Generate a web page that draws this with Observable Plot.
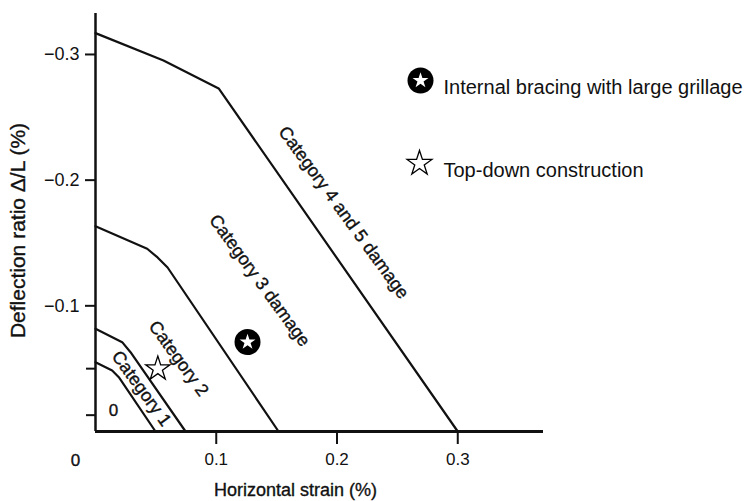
<!DOCTYPE html>
<html>
<head>
<meta charset="utf-8">
<script src="https://cdn.jsdelivr.net/npm/d3@7"></script>
<script src="https://cdn.jsdelivr.net/npm/@observablehq/plot@0.6"></script>
<style>
  html, body { margin: 0; padding: 0; background: #fff; }
  #chart { width: 747px; height: 501px; }
</style>
</head>
<body>
<div id="chart"></div>
<script>
// Boundary curves between damage zones (horizontal strain %, deflection ratio %)
const cat45X = [0, 0.0563, 0.102, 0.30];
const cat45Y = [-0.317, -0.2952, -0.273, 0];
const cat3X = [0, 0.0428, 0.0514, 0.0597, 0.1516];
const cat3Y = [-0.1634, -0.1454, -0.1385, -0.1305, 0];
const cat2X = [0, 0.0221, 0.029, 0.0746];
const cat2Y = [-0.0817, -0.0711, -0.0631, 0];
const cat1X = [0, 0.0138, 0.0193, 0.0497];
const cat1Y = [-0.0551, -0.0485, -0.0432, 0];

// Zone labels
const zoneLabels = ["Category 4 and 5 damage", "Category 3 damage", "Category 2", "Category 1"];
const zoneLabelX = [0.2055, 0.1359, 0.0688, 0.0381];
const zoneLabelY = [-0.1743, -0.1202, -0.0581, -0.0342];
const zeroZoneLabel = ["0"];
const zeroZoneX = [0.0149];
const zeroZoneY = [-0.0167];

// Case points
const caseNames = ["Internal bracing with large grillage", "Top-down construction"];
const caseX = [0.1259, 0.0516];
const caseY = [-0.0712, -0.0499];

// Ticks
const xTicks = [0.1, 0.2, 0.3];
const yTicks = [-0.3, -0.2, -0.1];
const yMinorTicks = [-0.05, -0.013];
const originLabel = ["0"];
const xTitle = "Horizontal strain (%)";
const yTitle = "Deflection ratio \u0394/L (%)";

const toRows = (xs, ys) => xs.map((x, i) => ({x, y: ys[i]}));
const curves = [toRows(cat45X, cat45Y), toRows(cat3X, cat3Y), toRows(cat2X, cat2Y), toRows(cat1X, cat1Y)];
const labelRows = zoneLabels.map((t, i) => ({t, x: zoneLabelX[i], y: zoneLabelY[i]}));
const cases = caseNames.map((n, i) => ({n, x: caseX[i], y: caseY[i]}));

const font = "'Liberation Sans', Arial, Helvetica, sans-serif";
const fmt = d3.format("");
const ink = "#111";
const heavy = {fill: ink, stroke: ink, strokeWidth: 0.35};

const chart = Plot.plot({
  width: 747,
  height: 501,
  marginLeft: 95,
  marginRight: 204,
  marginTop: 13,
  marginBottom: 70,
  x: {domain: [0, 0.371]},
  y: {domain: [0, -0.3326]},
  style: {fontFamily: font, fontSize: "17px", color: ink, background: "#fff", overflow: "visible"},
  marks: [
    // axes
    Plot.axisX(xTicks, {tickSize: 13, tickPadding: 8, strokeWidth: 2, label: null, fontSize: 17, tickFormat: fmt}),
    Plot.axisY(yTicks, {tickSize: 10, tickPadding: 6, strokeWidth: 2, label: null, fontSize: 18, tickFormat: fmt}),
    Plot.axisY(yMinorTicks, {tickSize: 9, strokeWidth: 2, label: null, tickFormat: () => ""}),
    Plot.ruleX([0], {y1: 0, y2: -0.3326, strokeWidth: 2.5, stroke: ink}),
    Plot.ruleY([0], {x1: 0, x2: 0.371, strokeWidth: 3, stroke: ink}),
    Plot.text(originLabel, {frameAnchor: "bottom-left", dx: -20, dy: 29, textAnchor: "middle", lineAnchor: "middle", fontSize: 17, ...heavy}),
    Plot.text([xTitle], {frameAnchor: "bottom-left", dx: 200, dy: 59, textAnchor: "middle", lineAnchor: "middle", fontSize: 18, ...heavy}),
    Plot.text([yTitle], {frameAnchor: "left", dx: -77, dy: 8, rotate: -90, textAnchor: "middle", lineAnchor: "middle", fontSize: 21, ...heavy}),
    // boundary curves
    ...curves.map(c => Plot.line(c, {x: "x", y: "y", stroke: ink, strokeWidth: 2.2})),
    // zone labels
    Plot.text(labelRows, {x: "x", y: "y", text: "t", rotate: 54, fontSize: 18, ...heavy}),
    Plot.text(zeroZoneLabel, {x: zeroZoneX, y: zeroZoneY, text: d => d, fontSize: 17, ...heavy}),
    // case points
    Plot.dot([cases[0]], {x: "x", y: "y", r: 13, fill: "#000", stroke: "none"}),
    Plot.dot([cases[0]], {x: "x", y: "y", r: 5, symbol: "star", fill: "#fff", stroke: "none"}),
    Plot.dot([cases[1]], {x: "x", y: "y", r: 7.6, symbol: "star", fill: "#fff", stroke: "#000", strokeWidth: 1.3}),
    // legend
    Plot.dot([caseNames[0]], {frameAnchor: "top-left", dx: 325, dy: 67, r: 13, fill: "#000", stroke: "none"}),
    Plot.dot([caseNames[0]], {frameAnchor: "top-left", dx: 325, dy: 67, r: 5, symbol: "star", fill: "#fff", stroke: "none"}),
    Plot.text([caseNames[0]], {frameAnchor: "top-left", dx: 348, dy: 74, textAnchor: "start", lineAnchor: "middle", fontSize: 20, fill: ink}),
    Plot.dot([caseNames[1]], {frameAnchor: "top-left", dx: 324, dy: 150, r: 7.8, symbol: "star", fill: "#fff", stroke: "#000", strokeWidth: 1.3}),
    Plot.text([caseNames[1]], {frameAnchor: "top-left", dx: 348, dy: 157, textAnchor: "start", lineAnchor: "middle", fontSize: 20, fill: ink})
  ]
});
document.getElementById("chart").appendChild(chart);
</script>
</body>
</html>
